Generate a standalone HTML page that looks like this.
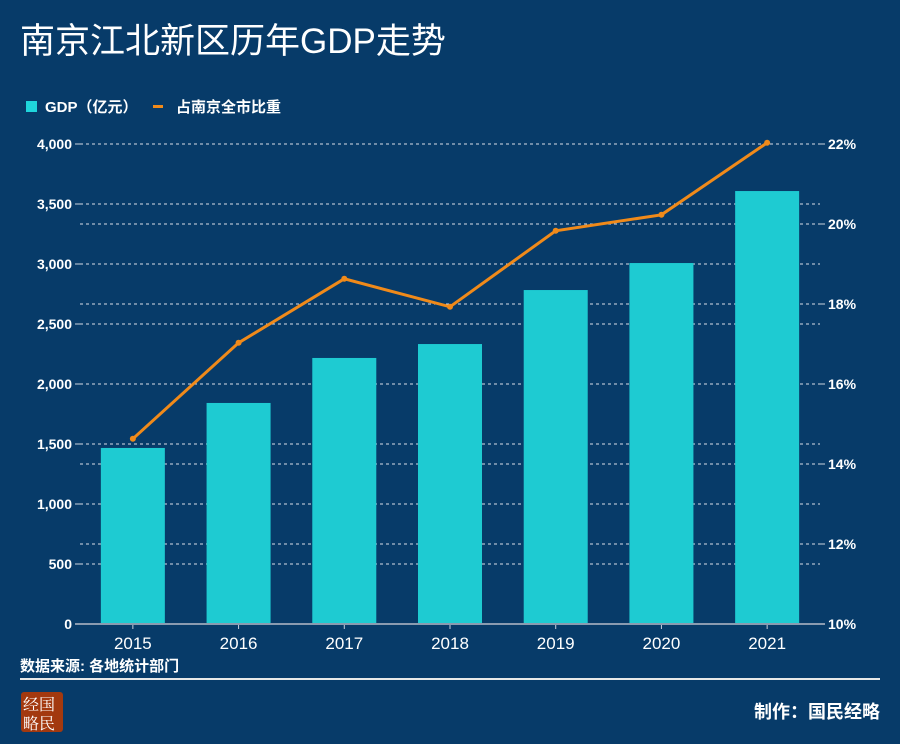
<!DOCTYPE html>
<html><head><meta charset="utf-8"><style>
body{margin:0;width:900px;height:744px;background:#073b69;overflow:hidden;font-family:"Liberation Sans","Noto Sans CJK SC",sans-serif;}
svg{display:block}
</style></head><body>
<svg id="c" width="900" height="744" font-family="Liberation Sans, Noto Sans CJK SC, sans-serif">
<rect width="900" height="744" fill="#073b69"/>
<text x="20" y="53" font-size="35" fill="#fff">南京江北新区历年GDP走势</text>
<g font-weight="bold">
<rect x="26" y="101" width="11" height="11" fill="#1fd5dc"/>
<text x="45" y="112" font-size="15" fill="#fff">GDP（亿元）</text>
<rect x="153" y="105" width="10" height="3" fill="#f08a1a"/>
<text x="176" y="112" font-size="15" fill="#fff">占南京全市比重</text>
</g>
<g id="grid"></g><g id="bars"></g><g id="line"></g><g id="axes"></g>
<text x="20" y="671" font-size="15" font-weight="bold" fill="#fff">数据来源: 各地统计部门</text>
<rect x="20" y="678" width="860" height="2" fill="#e8e8e8"/>
<g>
<rect x="21" y="692" width="42" height="40" rx="3" fill="#a3390f"/>
<text x="23" y="710" font-size="16" fill="#fff" font-family="Noto Serif CJK SC, serif">经国</text>
<text x="23" y="729" font-size="16" fill="#fff" font-family="Noto Serif CJK SC, serif">略民</text>
</g>
<text x="880" y="718" font-size="18" font-weight="bold" fill="#fff" text-anchor="end">制作：国民经略</text>
</svg>
<script>
const years=["2015","2016","2017","2018","2019","2020","2021"];
const gdp=[1467,1842,2217,2333,2783,3008,3608];
const share=[14.63,17.03,18.63,17.93,19.83,20.23,22.03];
const leftTicks=[0,500,1000,1500,2000,2500,3000,3500,4000];
const leftLabels=["0","500","1,000","1,500","2,000","2,500","3,000","3,500","4,000"];
const rightTicks=[10,12,14,16,18,20,22];
const NS="http://www.w3.org/2000/svg";
const X0=80,X1=820,Y0=624,Y1=144;
const band=(X1-X0)/years.length;
const xc=i=>X0+band*(i+0.5);
const yL=v=>Y0-(v/4000)*(Y0-Y1);
const yR=v=>Y0-((v-10)/12)*(Y0-Y1);
function mk(t,a,p){const e=document.createElementNS(NS,t);for(const k in a)e.setAttribute(k,a[k]);p.appendChild(e);return e;}
const grid=document.getElementById('grid'),bars=document.getElementById('bars'),line=document.getElementById('line'),axes=document.getElementById('axes');
leftTicks.forEach((v,i)=>{
 if(v>0){const g=mk('line',{x1:X0,x2:X1,y1:yL(v),y2:yL(v),stroke:'#d8dde6','stroke-dasharray':'3,3','stroke-width':1},grid);
 
 }
 mk('line',{x1:X0-5,x2:X0,y1:yL(v),y2:yL(v),stroke:'#c8d0dc'},axes);
 const t=mk('text',{x:X0-8,y:yL(v)+5,'font-size':14,'font-weight':'bold',fill:'#fff','text-anchor':'end'},axes);t.textContent=leftLabels[i];
 
 
});
rightTicks.forEach(v=>{
 if(v>10){const g=mk('line',{x1:X0,x2:X1,y1:yR(v),y2:yR(v),stroke:'#d8dde6','stroke-dasharray':'3,3','stroke-width':1},grid);
 
 }
 mk('line',{x1:X1,x2:X1+5,y1:yR(v),y2:yR(v),stroke:'#c8d0dc'},axes);
 const t=mk('text',{x:X1+8,y:yR(v)+5,'font-size':14,'font-weight':'bold',fill:'#fff'},axes);t.textContent=v+'%';
 
 
});
years.forEach((y,i)=>{
 const b=mk('rect',{x:xc(i)-32,y:yL(gdp[i]),width:64,height:Y0-yL(gdp[i]),fill:'#1ecbd2'},bars);
 
 
 mk('line',{x1:xc(i),x2:xc(i),y1:Y0,y2:Y0+5,stroke:'#c8d0dc'},axes);
 const t=mk('text',{x:xc(i),y:Y0+25,'font-size':17,fill:'#fff','text-anchor':'middle'},axes);t.textContent=y;
 
 
});
const ax=mk('line',{x1:X0-5,x2:X1+5,y1:Y0,y2:Y0,stroke:'#8a9bb0','stroke-width':2},axes);


const pl=mk('polyline',{points:share.map((v,i)=>xc(i)+','+yR(v)).join(' '),fill:'none',stroke:'#f08a1a','stroke-width':3},line);


share.forEach((v,i)=>{const c=mk('circle',{cx:xc(i),cy:yR(v),r:3,fill:'#f08a1a'},line);
 
 });
</script>
</body></html>
